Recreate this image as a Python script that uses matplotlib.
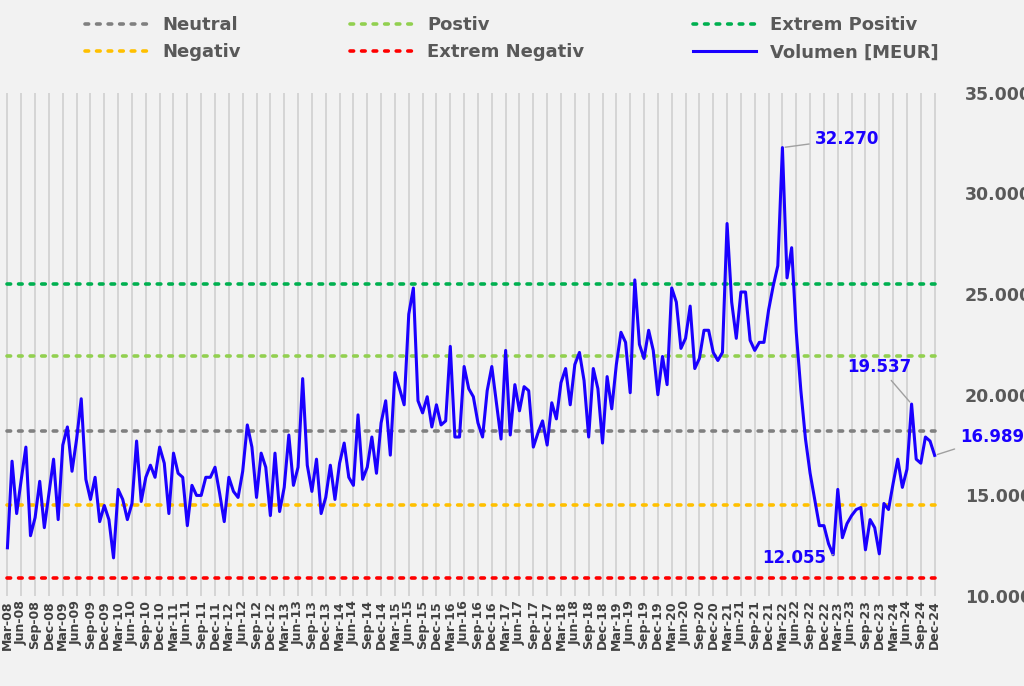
import matplotlib.pyplot as plt
import matplotlib.ticker as mticker

months = ['Jan', 'Feb', 'Mar', 'Apr', 'May', 'Jun', 'Jul', 'Aug', 'Sep', 'Oct', 'Nov', 'Dec']
labels = []
for yr in range(2008, 2025):
    for m in range(12):
        if yr == 2008 and m < 2:
            continue
        labels.append('%s-%02d' % (months[m], yr % 100))

volumen = [
    12.4, 16.7, 14.1, 15.8, 17.4, 13.0, 13.9, 15.7, 13.4, 15.1,
    16.8, 13.8, 17.5, 18.4, 16.2, 17.8, 19.8, 15.8, 14.8, 15.9,
    13.7, 14.5, 13.8, 11.9, 15.3, 14.8, 13.8, 14.6, 17.7, 14.7,
    15.9, 16.5, 15.9, 17.4, 16.6, 14.1, 17.1, 16.1, 15.9, 13.5,
    15.5, 15.0, 15.0, 15.9, 15.9, 16.4, 15.1, 13.7, 15.9, 15.2,
    14.9, 16.2, 18.5, 17.4, 14.9, 17.1, 16.4, 14.0, 17.1, 14.2,
    15.4, 18.0, 15.5, 16.4, 20.8, 16.5, 15.2, 16.8, 14.1, 14.9,
    16.5, 14.8, 16.6, 17.6, 15.9, 15.5, 19.0, 15.8, 16.4, 17.9,
    16.1, 18.6, 19.7, 17.0, 21.1, 20.3, 19.5, 24.0, 25.3, 19.7,
    19.1, 19.9, 18.4, 19.5, 18.5, 18.7, 22.4, 17.9, 17.9, 21.4,
    20.3, 19.9, 18.6, 17.9, 20.2, 21.4, 19.6, 17.8, 22.2, 18.0,
    20.5, 19.2, 20.4, 20.2, 17.4, 18.1, 18.7, 17.5, 19.6, 18.8,
    20.6, 21.3, 19.5, 21.5, 22.1, 20.7, 17.9, 21.3, 20.3, 17.6,
    20.9, 19.3, 21.5, 23.1, 22.6, 20.1, 25.7, 22.5, 21.8, 23.2,
    22.2, 20.0, 21.9, 20.5, 25.3, 24.6, 22.3, 22.8, 24.4, 21.3,
    21.8, 23.2, 23.2, 22.1, 21.7, 22.1, 28.5, 24.6, 22.8, 25.1,
    25.1, 22.7, 22.2, 22.6, 22.6, 24.2, 25.4, 26.4, 32.27, 25.8,
    27.3, 23.1, 20.2, 17.8, 16.1, 14.8, 13.5, 13.5, 12.6, 12.055,
    15.3, 12.9, 13.6, 14.0, 14.3, 14.4, 12.3, 13.8, 13.4, 12.1,
    14.6, 14.3, 15.6, 16.8, 15.4, 16.3, 19.537, 16.8, 16.6, 17.9,
    17.7, 16.989,
]
volumen = [v * 1000 for v in volumen]

levels = [
    ('Neutral', 18200, '#808080'),
    ('Postiv', 21900, '#92d050'),
    ('Extrem Positiv', 25500, '#00b050'),
    ('Negativ', 14500, '#ffc000'),
    ('Extrem Negativ', 10900, '#ff0000'),
]

bg = '#f2f2f2'
blue = '#1a00ff'
fig = plt.figure(figsize=(10.24, 6.86), dpi=100, facecolor=bg)
ax = fig.add_axes([0.005, 0.131, 0.91, 0.734], facecolor=bg)
x = list(range(len(volumen)))

handles = []
for name, val, col in levels:
    h, = ax.plot([x[0], x[-1]], [val, val], ls=(0, (1, 2.2)), lw=2.6, color=col,
                 dash_capstyle='round', label=name)
    handles.append(h)
line, = ax.plot(x, volumen, color=blue, lw=2.2, label='Volumen [MEUR]')
handles.append(line)

ax.set_xlim(-0.5, len(x) - 0.5)
ax.set_ylim(10000, 35000)
ax.set_xticks(x[::3])
ax.set_xticklabels(labels[::3], rotation=90, fontsize=9, fontweight='bold', color='#404040')
ax.xaxis.grid(True, color='#d0d0d0', lw=1.2)
ax.set_axisbelow(True)
ax.yaxis.tick_right()
ax.yaxis.set_major_locator(mticker.MultipleLocator(5000))
ax.yaxis.set_major_formatter(mticker.FuncFormatter(lambda v, p: '{:,.0f}'.format(v).replace(',', '.')))
for t in ax.get_yticklabels():
    t.set_fontweight('bold')
    t.set_fontsize(12.5)
    t.set_color('#595959')
ax.tick_params(axis='y', length=0, pad=20)
ax.tick_params(axis='x', length=0, pad=3)
for s in ax.spines.values():
    s.set_visible(False)

# legend is filled column by column -> reorder so rows read like the original
order = [handles[0], handles[3], handles[1], handles[4], handles[2], handles[5]]
fig.legend(handles=order, ncol=3, loc='upper center', bbox_to_anchor=(0.5, 1.0),
           frameon=False, prop={'weight': 'bold', 'size': 13}, labelcolor='#595959',
           columnspacing=6, handlelength=3.5)

grey = dict(arrowstyle='-', color='#a0a0a0', lw=1)
txt = dict(color=blue, fontweight='bold', fontsize=12, va='center')
i_max = 168
i_min = 179
i_pk = 196
ax.annotate('32.270', xy=(x[i_max], volumen[i_max]), xytext=(x[i_max] + 7, 32700),
            arrowprops=grey, **txt)
ax.annotate('12.055', xy=(x[i_min], volumen[i_min]), xytext=(x[i_min] - 1.5, 11900),
            ha='right', arrowprops=grey, **txt)
ax.annotate('19.537', xy=(x[i_pk], volumen[i_pk]), xytext=(x[i_pk] - 7, 21400),
            ha='center', arrowprops=grey, **txt)
ax.annotate('16.989', xy=(x[-1], volumen[-1]), xytext=(x[-1] + 5.5, 17900),
            annotation_clip=False, arrowprops=grey, **txt)

fig.savefig('out.png', dpi=100, facecolor=bg)
